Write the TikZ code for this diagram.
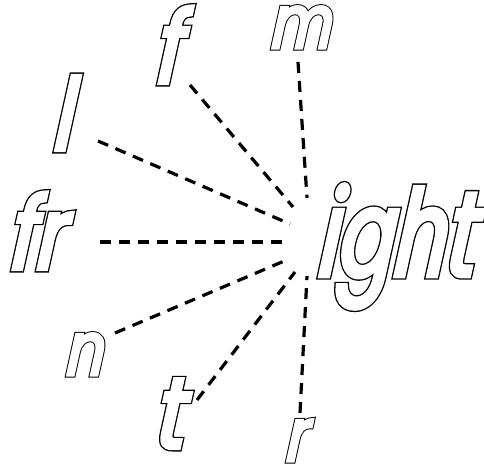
\documentclass[tikz,border=0pt]{standalone}
\usepackage{fontspec}
\setmainfont{Poppins}
\newfontfamily\blackf{Poppins}[FakeStretch=0.8, FakeSlant=0.22, FakeBold=7]
\newfontfamily\whitef{Poppins}[FakeStretch=0.8, FakeSlant=0.22, FakeBold=4.4]
\newfontfamily\blackb{Poppins}[FakeStretch=0.68, FakeSlant=0.22, FakeBold=6.2]
\newfontfamily\whiteb{Poppins}[FakeStretch=0.68, FakeSlant=0.22, FakeBold=4]
\newcommand{\outl}[1]{\makebox[0pt][l]{\color{black}\blackf #1}{\color{white}\whitef #1}}
\newcommand{\outlb}[1]{\makebox[0pt][l]{\color{black}\blackb #1}{\color{white}\whiteb #1}}
\tikzset{
  letter/.style={inner sep=0pt, anchor=base west, font=\fontsize{100}{100}\selectfont},
  xletter/.style={inner sep=0pt, anchor=base west, font=\fontsize{74}{74}\selectfont},
  bigletter/.style={inner sep=0pt, anchor=base west, font=\fontsize{120}{120}\selectfont},
  link/.style={draw=black, line width=3.2pt, dash pattern=on 11pt off 8pt}
}
\begin{document}
\begin{tikzpicture}[x=1pt,y=1pt]
\useasboundingbox (0,0) rectangle (484,468);
\fill[white] (0,0) rectangle (484,468);
\node[bigletter] (ight) at (314,192) {\outlb{ight}};
\node[xletter] (m) at (268,420) {\outl{m}};
\node[letter] (f) at (152,385) {\outl{f}};
\node[letter] (l) at (50,318) {\outl{l}};
\node[letter] (fr) at (6,199) {\outl{fr}};
\node[xletter] (n) at (63,93) {\outl{n}};
\node[letter] (t) at (152,20) {\outl{t}};
\node[xletter] (r) at (283,7) {\outl{r}};
\coordinate (mo) at (298,406);
\coordinate (mi) at (307,270);
\coordinate (fo) at (190,383);
\coordinate (fi) at (293,261);
\coordinate (lo) at (98,327);
\coordinate (li) at (290,244);
\coordinate (fro) at (100,226);
\coordinate (fri) at (287,226);
\coordinate (no) at (115,135);
\coordinate (ni) at (289,209);
\coordinate (to) at (197,68);
\coordinate (ti) at (295,196);
\coordinate (ro) at (300,55);
\coordinate (ri) at (307,192);
\draw[link] (mo) -- (mi);
\draw[link] (fo) -- (fi);
\draw[link] (lo) -- (li);
\draw[link] (fro) -- (fri);
\draw[link] (no) -- (ni);
\draw[link] (to) -- (ti);
\draw[link] (ro) -- (ri);
\end{tikzpicture}
\end{document}
